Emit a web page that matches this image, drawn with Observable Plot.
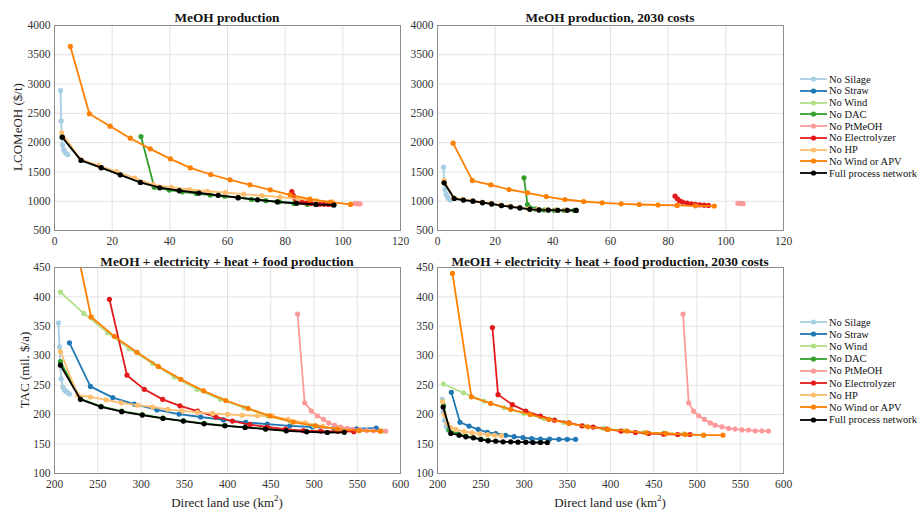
<!DOCTYPE html>
<html><head><meta charset="utf-8">
<script src="https://cdn.jsdelivr.net/npm/d3@7"></script>
<script src="https://cdn.jsdelivr.net/npm/@observablehq/plot@0.6"></script>
<style>
body{margin:0;background:#fff;font-family:"Liberation Serif","DejaVu Serif",serif;}
#wrap{position:relative;width:919px;height:511px;overflow:hidden;}
#wrap svg text{font-family:"Liberation Serif","DejaVu Serif",serif !important;font-size:11.5px;}
.abs{position:absolute;}
.title{position:absolute;font-weight:bold;font-size:13.3px;color:#111;transform:translate(-50%,-50%);white-space:nowrap;}
.ylab{position:absolute;font-size:13px;color:#222;transform:translate(-50%,-50%) rotate(-90deg);white-space:nowrap;}
.xlab{position:absolute;font-size:13px;color:#222;transform:translate(-50%,-50%);white-space:nowrap;}
.leg{position:absolute;font-size:10.5px;color:#111;white-space:nowrap;display:flex;align-items:center;height:12px;}
.leg svg{margin-right:1px;}
</style></head><body><div id="wrap"></div>
<script>
// ---- legend / series ----
const seriesNames = ["No Silage","No Straw","No Wind","No DAC","No PtMeOH","No Electrolyzer","No HP","No Wind or APV","Full process network"];
const seriesColors = ["#a6cee3","#1f78b4","#b2df8a","#33a02c","#fb9a99","#e31a1c","#fdbf6f","#ff7f00","#000000"];

// ---- panel titles / ticks ----
const titles = ["MeOH production","MeOH production, 2030 costs","MeOH + electricity + heat + food production","MeOH + electricity + heat + food production, 2030 costs"];
const xTicksTop = [0,20,40,60,80,100,120];
const yTicksTop = [500,1000,1500,2000,2500,3000,3500,4000];
const xTicksBottom = [200,250,300,350,400,450,500,550,600];
const yTicksBottom = [100,150,200,250,300,350,400,450];

// ---- Panel 1: MeOH production (x: land use, y: LCOMeOH $/t) ----
const mp_silage = [[2.1,2890],[2.3,2370],[2.5,2100],[2.8,1960],[3.2,1880],[3.7,1835],[4.2,1810],[4.6,1797]];
const mp_straw = [[2.7,2093],[9.2,1698],[16.2,1572],[22.8,1450],[29.8,1320],[36.5,1230],[43.3,1180],[50.1,1140],[56.8,1100],[63.7,1060],[70.4,1025],[77.3,990],[83.9,965],[90.7,945],[96.9,935]];
const mp_wind = [[2.7,2093],[9.2,1698],[16.2,1572],[22.8,1450],[29.8,1320],[36.5,1230],[43.3,1180],[50.1,1140],[56.8,1100],[63.7,1060],[70.4,1025],[77.3,990],[83.9,965],[90.7,945],[96.9,935]];
const mp_dac = [[30.0,2105],[34.6,1240],[39.8,1190],[44.4,1160],[49.2,1130],[54,1105],[59,1085],[63.7,1060],[68.3,1030],[73.3,1010],[78,990],[83,960],[87.7,945]];
const mp_pt = [[104.2,962],[104.8,958],[105.4,956],[106,955]];
const mp_elec = [[82.3,1166],[82.8,1100],[83.5,1040],[84.5,1000],[86,980],[87.5,970],[89,962],[90.5,955],[92,950],[93.5,947],[95,944],[96.5,942]];
const mp_hp = [[2.5,2167],[9.0,1715],[15.3,1610],[21.5,1505],[27.8,1395],[34.2,1285],[40.5,1235],[46.8,1200],[53.0,1170],[59.3,1145],[65.6,1120],[72,1095],[78.3,1070],[84.5,1040],[90.8,1010],[96.5,985]];
const mp_apv = [[5.5,3642],[12.1,2492],[19.3,2281],[26.3,2076],[33.2,1894],[40.2,1723],[47.1,1570],[54.2,1456],[60.9,1365],[67.8,1280],[74.8,1194],[81.7,1109],[88.6,1035],[95.8,984],[102.7,945]];
const mp_full = [[2.7,2093],[9.2,1698],[16.2,1572],[22.8,1450],[29.8,1320],[36.5,1230],[43.3,1180],[50.1,1140],[56.8,1100],[63.7,1060],[70.4,1025],[77.3,990],[83.9,965],[90.7,945],[96.9,935]];

// ---- Panel 2: MeOH production, 2030 costs ----
const mc_silage = [[2.1,1581],[2.3,1320],[2.6,1200],[3.0,1120],[3.5,1070],[4.0,1040],[4.5,1020]];
const mc_straw = [[2.3,1314],[5.8,1046],[9.0,1020],[12.3,1000],[15.6,975],[18.8,953],[22.2,925],[25.4,905],[28.6,885],[32.0,862],[35.2,852],[38.4,848],[41.7,846],[45.0,844],[48.1,843]];
const mc_wind = [[2.3,1314],[5.8,1046],[9.0,1020],[12.3,1000],[15.6,975],[18.8,953],[22.2,925],[25.4,905],[28.6,885],[32.0,862],[35.2,852],[38.4,848],[41.7,846],[45.0,844],[48.1,843]];
const mc_dac = [[30.0,1399],[31.2,944],[34,865],[37,850],[40.5,845],[44,843],[47.5,842]];
const mc_pt = [[104.2,965],[104.8,962],[105.4,960],[106,958]];
const mc_elec = [[82.4,1086],[83.2,1040],[84,1005],[85,985],[86.5,968],[88,955],[89.5,945],[91,938],[92.5,932],[94,928]];
const mc_hp = [[2.3,1355],[5.5,1060],[8.7,1030],[12,1008],[15.3,985],[18.5,962],[21.8,935],[25,915],[28.3,893],[31.6,870],[34.8,860],[38,855],[41.3,852],[44.5,850]];
const mc_apv = [[5.4,1991],[12.1,1353],[18.5,1279],[24.8,1200],[31.2,1143],[37.7,1080],[44.2,1029],[50.7,995],[57.1,972],[63.7,955],[70,944],[76.5,935],[83.1,928],[89.5,922],[96,918]];
const mc_full = [[2.3,1314],[5.8,1046],[9.0,1020],[12.3,1000],[15.6,975],[18.8,953],[22.2,925],[25.4,905],[28.6,885],[32.0,862],[35.2,852],[38.4,848],[41.7,846],[45.0,844],[48.1,843]];

// ---- Panel 3: MeOH + electricity + heat + food (y: TAC mil. $/a) ----
const mf_silage = [[204.6,356],[205.8,315],[207.7,261],[209.6,247],[211.5,242],[213.5,239],[215.4,237],[217.3,235]];
const mf_straw = [[217.3,322],[241.5,248],[267.3,229],[292.3,218],[318.5,208],[344,201],[369,196],[395.4,191],[421,187],[446,184],[472,181],[498,179],[523,177],[549,176],[572,177]];
const mf_wind = [[206.9,408],[233.8,372],[261.5,339],[286.5,312],[313.5,287],[338.5,264],[365,243],[392,226],[419,212],[446,198],[473,188],[500,181],[527,176],[553,173],[580,172]];
const mf_dac = [[206.9,290],[230,227],[253.8,214],[277.7,206],[301.5,200],[325.4,194],[349,189.5],[373,185],[397,181.5],[420.4,178.5],[444,176],[468,173],[491.5,171.5]];
const mf_pt = [[481,371],[489.2,220],[497,206],[504,198],[511,192],[517,186],[524,182],[531,179],[538.5,176.5],[545,175],[553,174],[561,173],[568.5,172.5],[576,172],[583,172]];
const mf_elec = [[263.5,396],[283.8,267],[303.8,243],[325,226],[345,215],[365.4,206],[386.5,196],[405.8,189],[426,183],[446,179],[467,175.5],[487.7,173],[507.7,172],[527.7,171.5],[546,171]];
const mf_hp = [[206.9,307],[227,233],[241.5,230],[259.6,225],[277,220],[296,216],[313.5,213],[331,209],[348,206.5],[365.4,204],[382.7,202],[400,200.5],[417,199],[434.6,198],[452,197.5],[470,192],[490,186],[510,180],[528,176]];
const mf_apv = [[216,550],[242.3,366],[269.2,333],[295.4,306],[320,282],[346,260],[372.3,240.5],[398,224],[423.8,210.5],[449,198],[476,187.3],[502,181],[527,175.4],[552,173],[577,172]];
const mf_full = [[206.9,284],[230,226],[253.8,213.3],[277.7,205],[301.5,199.2],[325.4,193.5],[349,189],[373,184.4],[397,181],[420.4,178.2],[444,175.4],[468,172.5],[491.5,170.8],[515.4,169.7],[535,170]];

// ---- Panel 4: MeOH + electricity + heat + food, 2030 costs ----
const mfc_silage = [[205.5,226],[206.5,205],[208,190],[210,180],[212,174],[214.5,171]];
const mfc_straw = [[216,238],[226,187],[236.5,180.5],[247,175],[257.7,170],[267.3,168],[278.8,165],[288.5,162.5],[298.8,161],[308.8,159.5],[319,158.5],[329.6,158.5],[340.4,158],[350,158],[359.6,158]];
const mfc_wind = [[206.9,252],[230,237],[253.8,223],[277,211.6],[300,202],[323,193.5],[346,186.7],[369,181],[392,176.5],[415.4,172.5],[438.5,169.7],[461.5,168.6],[484.6,167.4]];
const mfc_dac = [[207,216],[213.5,174],[224,167],[233,163.5],[241.5,161],[250,158.5],[258.5,156.5]];
const mfc_pt = [[483.8,371],[490.4,220],[496,206],[502,198],[508.5,192],[515.4,186],[521,182],[528.8,179.3],[536.5,176.5],[544,175.4],[552,174],[559.6,173.7],[567.3,172.5],[575,172.5],[582.7,172]];
const mfc_elec = [[263.5,348],[270,234],[286.5,217],[302,206],[319,197.5],[335.4,190.6],[352,186],[367,181],[380,179],[396,175.4],[412,172],[428.8,169.7],[444,168],[461.5,166.8],[477.7,166.3],[492,166.3]];
const mfc_hp = [[205.8,222],[208,200],[211.5,185],[215,178],[221,175],[231,171],[240,169],[249,167.5],[258,166],[266,165],[274,164]];
const mfc_apv = [[217.3,440],[239.2,230.3],[261.5,219],[284.6,208.8],[307,200.3],[328.8,191.8],[351.9,185],[373.8,179.3],[396.9,174.8],[419.2,172],[441.5,169.1],[464.2,168],[486.5,166.3],[507.7,165.2],[530,165.2]];
const mfc_full = [[206.5,213],[215.4,168],[225,165.2],[232.7,162.3],[241.5,160.6],[250,157.8],[258.5,155.5],[267.3,155],[275.8,153.8],[284.6,153.8],[293,153.3],[302,153.3],[310.4,152.7],[319,152.7],[327,152.7]];

const panelSeries = [
  [mp_silage,mp_straw,mp_wind,mp_dac,mp_pt,mp_elec,mp_hp,mp_apv,mp_full],
  [mc_silage,mc_straw,mc_wind,mc_dac,mc_pt,mc_elec,mc_hp,mc_apv,mc_full],
  [mf_silage,mf_straw,mf_wind,mf_dac,mf_pt,mf_elec,mf_hp,mf_apv,mf_full],
  [mfc_silage,mfc_straw,mfc_wind,mfc_dac,mfc_pt,mfc_elec,mfc_hp,mfc_apv,mfc_full]
];

const wrap = document.getElementById("wrap");
const FONT = '"Liberation Serif","DejaVu Serif",serif';

function makePanel(idx, cfg) {
  const marks = [
    Plot.gridX(cfg.xTicks, {stroke:"#e2e2e2", strokeOpacity:1}),
    Plot.gridY(cfg.yTicks, {stroke:"#e2e2e2", strokeOpacity:1})
  ];
  panelSeries[idx].forEach((data, i) => {
    const c = seriesColors[i];
    marks.push(Plot.line(data, {x: d => d[0], y: d => d[1], stroke: c, strokeWidth: 1.8, clip: true}));
    marks.push(Plot.dot(data, {x: d => d[0], y: d => d[1], fill: c, r: 2.6, clip: true}));
  });
  marks.push(Plot.axisX(cfg.xTicks, {tickSize: 0, tickPadding: 6, tickFormat: d => String(d), fill: "#333", fontFamily: FONT}));
  marks.push(Plot.axisY(cfg.yTicks, {tickSize: 0, tickPadding: 4, tickFormat: d => String(d), fill: "#333", fontFamily: FONT}));
  marks.push(Plot.frame({stroke: "#8c8c8c"}));
  const p = Plot.plot({
    width: cfg.width, height: cfg.height,
    marginLeft: cfg.mL, marginRight: 10, marginTop: cfg.mT, marginBottom: 20,
    x: {domain: cfg.xDomain},
    y: {domain: cfg.yDomain},
    style: {fontFamily: FONT, fontSize: "11.5px", background: "transparent", overflow: "visible"},
    marks
  });
  const div = document.createElement("div");
  div.className = "abs";
  div.style.left = cfg.left + "px";
  div.style.top = cfg.top + "px";
  div.appendChild(p);
  wrap.appendChild(div);
}

makePanel(0, {left:0, top:0, width:410, height:250, mL:54, mT:25, xDomain:[0,120], yDomain:[500,4000], xTicks:xTicksTop, yTicks:yTicksTop});
makePanel(1, {left:400, top:0, width:393, height:250, mL:37, mT:25, xDomain:[0,120], yDomain:[500,4000], xTicks:xTicksTop, yTicks:yTicksTop});
makePanel(2, {left:0, top:250, width:410, height:243, mL:54, mT:17, xDomain:[200,600], yDomain:[100,450], xTicks:xTicksBottom, yTicks:yTicksBottom});
makePanel(3, {left:400, top:250, width:393, height:243, mL:37, mT:17, xDomain:[200,600], yDomain:[100,450], xTicks:xTicksBottom, yTicks:yTicksBottom});

function addText(cls, text, x, y, html) {
  const d = document.createElement("div");
  d.className = cls;
  if (html) d.innerHTML = text; else d.textContent = text;
  d.style.left = x + "px"; d.style.top = y + "px";
  wrap.appendChild(d);
}
addText("title", titles[0], 227, 18);
addText("title", titles[1], 610, 18);
addText("title", titles[2], 227, 262);
addText("title", titles[3], 610, 262);
addText("ylab", "LCOMeOH ($/t)", 18, 127);
addText("ylab", "TAC (mil. $/a)", 25, 370);
addText("xlab", "Direct land use (km<sup style='font-size:9px'>2</sup>)", 227, 502, true);
addText("xlab", "Direct land use (km<sup style='font-size:9px'>2</sup>)", 610, 502, true);

function addLegend(y0, step) {
  seriesNames.forEach((name, i) => {
    const d = document.createElement("div");
    d.className = "leg";
    d.style.left = "800px";
    d.style.top = (y0 + i * step - 6) + "px";
    const c = seriesColors[i];
    d.innerHTML = `<svg width="28" height="12"><line x1="0" y1="6" x2="27" y2="6" stroke="${c}" stroke-width="1.8"/><circle cx="13.5" cy="6" r="2.6" fill="${c}"/></svg><span>${name}</span>`;
    wrap.appendChild(d);
  });
}
addLegend(79, 11.75);
addLegend(322, 12.2);
</script>
</body></html>
